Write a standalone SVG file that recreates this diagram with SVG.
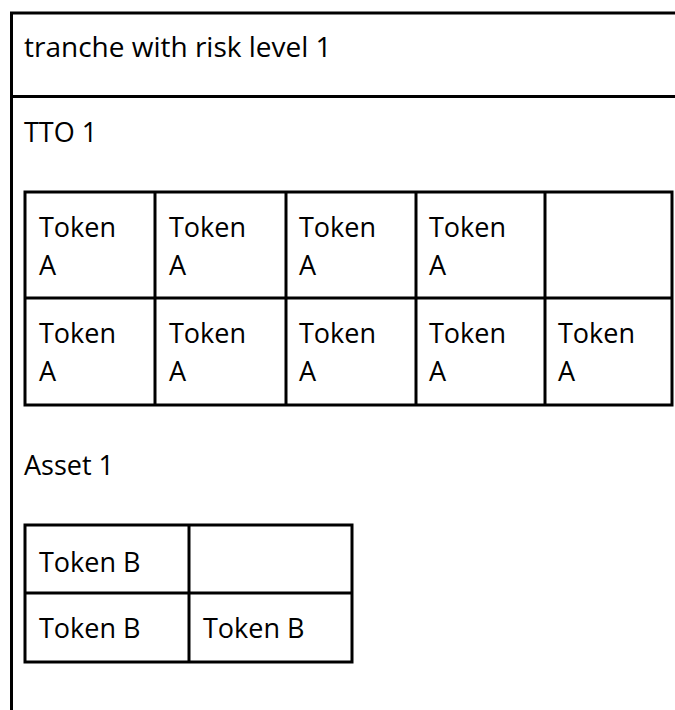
<svg xmlns="http://www.w3.org/2000/svg" width="675" height="710" viewBox="0 0 675 710">
<style>
.ln{stroke:#000;stroke-width:3;fill:none}
.cell{stroke:#000;stroke-width:3;fill:#fff}
.t{font-family:"Open Sans","Noto Sans",sans-serif;font-size:27px;fill:#000}
.h{font-family:"Open Sans","Noto Sans",sans-serif;font-size:27px;fill:#000}
.ti{font-family:"Open Sans","Noto Sans",sans-serif;font-size:28px;fill:#000}
</style>
<rect width="675" height="710" fill="#fff"/>
<g id="frame">
<line class="ln" x1="11.5" y1="12" x2="11.5" y2="710"/>
<line class="ln" x1="10" y1="13" x2="675" y2="13"/>
<line class="ln" x1="10" y1="96.5" x2="675" y2="96.5"/>
<text class="ti" x="24" y="57">tranche with risk level 1</text>
</g>
<g id="tto1">
<text class="h" x="24" y="142">TTO 1</text>
<g id="tableA">
<rect class="cell" x="25" y="192" width="647" height="213"/>
<line class="ln" x1="25" y1="298" x2="672" y2="298"/>
<line class="ln" x1="155" y1="192" x2="155" y2="405"/>
<line class="ln" x1="286" y1="192" x2="286" y2="405"/>
<line class="ln" x1="416" y1="192" x2="416" y2="405"/>
<line class="ln" x1="545" y1="192" x2="545" y2="405"/>
<text class="t" x="39" y="237">Token</text><text class="t" x="39" y="275">A</text>
<text class="t" x="169" y="237">Token</text><text class="t" x="169" y="275">A</text>
<text class="t" x="299" y="237">Token</text><text class="t" x="299" y="275">A</text>
<text class="t" x="429" y="237">Token</text><text class="t" x="429" y="275">A</text>
<text class="t" x="39" y="343">Token</text><text class="t" x="39" y="381">A</text>
<text class="t" x="169" y="343">Token</text><text class="t" x="169" y="381">A</text>
<text class="t" x="299" y="343">Token</text><text class="t" x="299" y="381">A</text>
<text class="t" x="429" y="343">Token</text><text class="t" x="429" y="381">A</text>
<text class="t" x="558" y="343">Token</text><text class="t" x="558" y="381">A</text>
</g>
</g>
<g id="asset1">
<text class="h" x="24" y="475">Asset 1</text>
<g id="tableB">
<rect class="cell" x="25" y="525" width="327" height="137"/>
<line class="ln" x1="25" y1="593" x2="352" y2="593"/>
<line class="ln" x1="189" y1="525" x2="189" y2="662"/>
<text class="t" x="39" y="572">Token B</text>
<text class="t" x="39" y="638">Token B</text>
<text class="t" x="203" y="638">Token B</text>
</g>
</g>
</svg>
